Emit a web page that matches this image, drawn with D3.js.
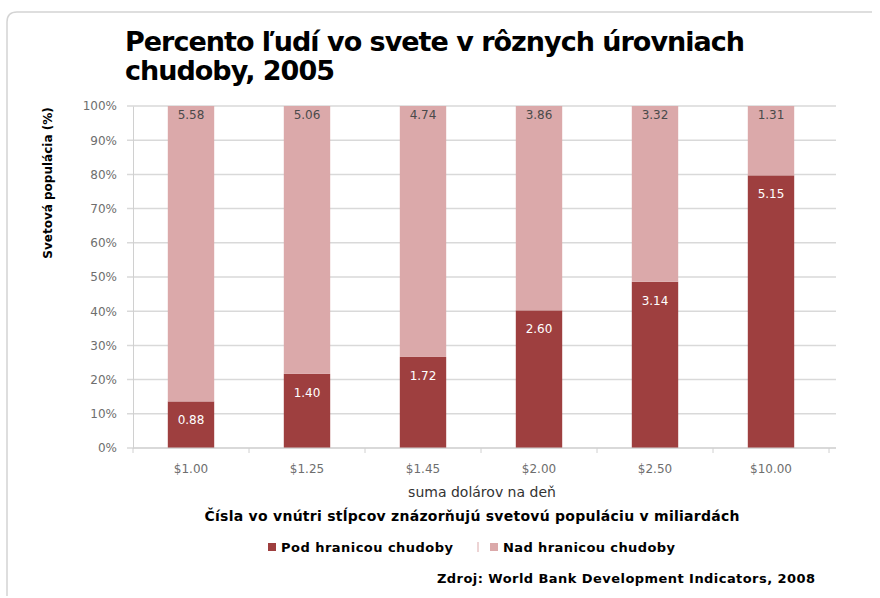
<!DOCTYPE html>
<html lang="sk">
<head>
<meta charset="UTF-8">
<title>Percento ľudí vo svete v rôznych úrovniach chudoby, 2005</title>
<script src="https://d3js.org/d3.v7.min.js"></script>
<style>
  body { margin: 0; background: #fff; }
  svg text { font-family: "DejaVu Sans", sans-serif; }
</style>
</head>
<body>
<div id="chart"></div>
<script>
  // data (miliardy ľudí)
  const categories = ['$1.00', '$1.25', '$1.45', '$2.00', '$2.50', '$10.00'];
  const below = [0.88, 1.40, 1.72, 2.60, 3.14, 5.15];
  const above = [5.58, 5.06, 4.74, 3.86, 3.32, 1.31];
  const yTicks = [0, 0.1, 0.2, 0.3, 0.4, 0.5, 0.6, 0.7, 0.8, 0.9, 1];
  const seriesNames = ['Pod hranicou chudoby', 'Nad hranicou chudoby'];
  const colors = ['#9e3f3f', '#dba9aa'];

  const width = 880, height = 598;
  const margin = { left: 133, right: 51, top: 106, bottom: 150 };
  const gridEnd = 836;

  const svg = d3.select('#chart').append('svg')
    .attr('width', width)
    .attr('height', height);

  // ramik okolo grafu
  svg.append('path')
    .attr('d', 'M7,596 L7,22 Q7,12 17,12 L872,12')
    .attr('fill', 'none')
    .attr('stroke', '#d4d4d4')
    .attr('stroke-width', 1.5);

  const rows = categories.map((c, i) => ({ cat: c, below: below[i], above: above[i] }));
  const stack = d3.stack().keys(['below', 'above']).offset(d3.stackOffsetExpand);
  const series = stack(rows);

  const x = d3.scaleBand()
    .domain(categories)
    .range([margin.left, width - margin.right])
    .paddingInner(0.6)
    .paddingOuter(0.3);

  const y = d3.scaleLinear()
    .domain([0, 1])
    .range([height - margin.bottom, margin.top]);

  // mriezka
  svg.append('g')
    .selectAll('line')
    .data(yTicks)
    .join('line')
    .attr('x1', margin.left - 6)
    .attr('x2', gridEnd)
    .attr('y1', d => y(d))
    .attr('y2', d => y(d))
    .attr('stroke', '#d9d9d9')
    .attr('stroke-width', 1.5);

  // os y
  const yAxis = svg.append('g')
    .attr('transform', `translate(${margin.left},0)`)
    .call(d3.axisLeft(y).tickValues(yTicks).tickFormat(d3.format('.0%')).tickSize(0).tickPadding(16));
  yAxis.select('.domain').attr('stroke', '#d0d0d0');
  yAxis.selectAll('text')
    .attr('fill', '#6e6e6e')
    .style('font-size', '12px');

  // stlpce
  const groups = svg.append('g')
    .selectAll('g')
    .data(series)
    .join('g')
    .attr('fill', (d, i) => colors[i]);

  groups.selectAll('rect')
    .data(d => d)
    .join('rect')
    .attr('x', d => x(d.data.cat))
    .attr('width', x.bandwidth())
    .attr('y', d => y(d[1]))
    .attr('height', d => y(d[0]) - y(d[1]));

  // popisky hodnot
  groups.selectAll('text')
    .data((d, i) => d.map(p => ({ p: p, key: d.key, idx: i })))
    .join('text')
    .attr('x', d => x(d.p.data.cat) + x.bandwidth() / 2)
    .attr('y', d => y(d.p[1]) + (d.idx === 0 ? 23 : 13))
    .attr('text-anchor', 'middle')
    .attr('fill', d => d.idx === 0 ? '#ffffff' : '#4a4a4a')
    .style('font-size', '12px')
    .text(d => d3.format('.2f')(d.p.data[d.key]));

  // os x
  const xAxis = svg.append('g')
    .attr('transform', `translate(0,${height - margin.bottom})`);
  xAxis.append('line')
    .attr('x1', margin.left)
    .attr('x2', gridEnd)
    .attr('stroke', '#d0d0d0');
  xAxis.selectAll('.tk')
    .data(d3.range(categories.length + 1))
    .join('line')
    .attr('class', 'tk')
    .attr('x1', i => margin.left + i * x.step())
    .attr('x2', i => margin.left + i * x.step())
    .attr('y1', 0)
    .attr('y2', 5)
    .attr('stroke', '#d0d0d0');
  xAxis.selectAll('.lbl')
    .data(categories)
    .join('text')
    .attr('class', 'lbl')
    .attr('x', d => x(d) + x.bandwidth() / 2)
    .attr('y', 25)
    .attr('text-anchor', 'middle')
    .attr('fill', '#6e6e6e')
    .style('font-size', '12px')
    .text(d => d);

  // nazvy
  svg.append('text')
    .attr('x', 125).attr('y', 51)
    .attr('textLength', 620)
    .style('font-size', '27px').style('font-weight', 'bold')
    .attr('fill', '#000')
    .text('Percento ľudí vo svete v rôznych úrovniach');
  svg.append('text')
    .attr('x', 125).attr('y', 80)
    .attr('textLength', 210)
    .style('font-size', '27px').style('font-weight', 'bold')
    .attr('fill', '#000')
    .text('chudoby, 2005');

  svg.append('text')
    .attr('transform', 'translate(52,183) rotate(-90)')
    .attr('text-anchor', 'middle')
    .style('font-size', '12px').style('font-weight', 'bold')
    .attr('fill', '#000')
    .text('Svetová populácia (%)');

  svg.append('text')
    .attr('x', 482).attr('y', 497)
    .attr('text-anchor', 'middle')
    .style('font-size', '14px')
    .attr('fill', '#333')
    .text('suma dolárov na deň');

  svg.append('text')
    .attr('x', 472).attr('y', 521)
    .attr('text-anchor', 'middle')
    .attr('textLength', 535)
    .style('font-size', '14px').style('font-weight', 'bold')
    .attr('fill', '#000')
    .text('Čísla vo vnútri stĺpcov znázorňujú svetovú populáciu v miliardách');

  // legenda
  const legendX = [268, 490];
  const legend = svg.append('g')
    .selectAll('g')
    .data(seriesNames)
    .join('g')
    .attr('transform', (d, i) => `translate(${legendX[i]},543)`);
  legend.append('rect')
    .attr('width', 8).attr('height', 8)
    .attr('fill', (d, i) => colors[i]);
  legend.append('text')
    .attr('x', 13).attr('y', 9)
    .attr('textLength', 172)
    .style('font-size', '13px').style('font-weight', 'bold')
    .attr('fill', '#000')
    .text(d => d);
  svg.append('line')
    .attr('x1', 478).attr('x2', 478)
    .attr('y1', 542).attr('y2', 552)
    .attr('stroke', colors[1]);

  svg.append('text')
    .attr('x', 815).attr('y', 583)
    .attr('text-anchor', 'end')
    .attr('textLength', 378)
    .style('font-size', '13px').style('font-weight', 'bold')
    .attr('fill', '#000')
    .text('Zdroj: World Bank Development Indicators, 2008');
</script>
</body>
</html>
